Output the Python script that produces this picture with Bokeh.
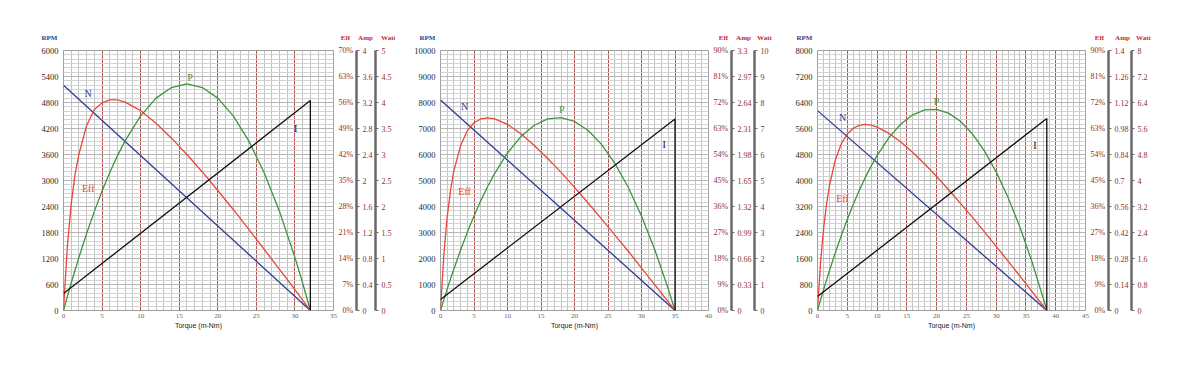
from bokeh.plotting import figure
from bokeh.models import Range1d, LinearAxis, FixedTicker, CustomJSTickFormatter
from bokeh.layouts import row, column
from bokeh.embed import file_html
from bokeh.resources import INLINE
from bokeh.core.properties import value

# ---------------- data: panel 1 ----------------
p1_torque = [0, 0.5, 1, 1.5, 2, 3, 4, 5, 6, 7, 8, 10, 12, 14, 16, 18, 20, 22, 24, 26, 28, 30, 31, 32]
p1_eff = [0, 17.3, 28.7, 36.7, 42.1, 49.8, 54.1, 55.9, 56.7, 56.7, 56.1, 53.8, 50.4, 46.4, 42.0, 37.3,
          32.3, 27.2, 21.9, 16.5, 11.1, 5.6, 2.8, 0]
p1_watt = [0, 0.268, 0.528, 0.779, 1.021, 1.480, 1.906, 2.297, 2.655, 2.978, 3.267, 3.744, 4.084, 4.288,
           4.356, 4.288, 4.084, 3.744, 3.267, 2.655, 1.906, 1.021, 0.528, 0]
p1_n_torque = [0, 32]
p1_n_rpm = [5200, 0]
p1_i_torque = [0, 32, 32]
p1_i_amp = [0.26, 3.23, 0]
p1_x_ticks = [0, 5, 10, 15, 20, 25, 30, 35]
p1_rpm_ticks = [0, 600, 1200, 1800, 2400, 3000, 3600, 4200, 4800, 5400, 6000]
p1_eff_ticks = [0, 7, 14, 21, 28, 35, 42, 49, 56, 63, 70]
p1_amp_ticks = [0, 0.4, 0.8, 1.2, 1.6, 2.0, 2.4, 2.8, 3.2, 3.6, 4.0]
p1_amp_labels = ["0", "0.4", "0.8", "1.2", "1.6", "2", "2.4", "2.8", "3.2", "3.6", "4"]
p1_watt_ticks = [0, 0.5, 1, 1.5, 2, 2.5, 3, 3.5, 4, 4.5, 5]
p1_watt_labels = ["0", "0.5", "1", "1.5", "2", "2.5", "3", "3.5", "4", "4.5", "5"]

# ---------------- data: panel 2 ----------------
p2_torque = [0, 0.5, 1, 1.5, 2, 3, 4, 5, 6, 7, 8, 10, 12, 14, 16, 18, 20, 22, 24, 26, 28, 30, 32, 34, 35]
p2_eff = [0, 19.4, 32.4, 41.6, 48.4, 57.1, 62.2, 65.0, 66.3, 66.7, 66.4, 64.4, 61.2, 57.1, 52.6, 47.8,
          42.6, 37.3, 31.8, 26.2, 20.6, 14.7, 8.9, 3.0, 0]
p2_watt = [0, 0.418, 0.824, 1.218, 1.599, 2.327, 3.005, 3.635, 4.217, 4.750, 5.235, 6.059, 6.689, 7.125,
           7.367, 7.416, 7.270, 6.931, 6.398, 5.671, 4.750, 3.635, 2.327, 0.824, 0]
p2_n_torque = [0, 35]
p2_n_rpm = [8100, 0]
p2_i_torque = [0, 35, 35]
p2_i_amp = [0.14, 2.43, 0]
p2_x_ticks = [0, 5, 10, 15, 20, 25, 30, 35, 40]
p2_rpm_ticks = [0, 1000, 2000, 3000, 4000, 5000, 6000, 7000, 8000, 9000, 10000]
p2_eff_ticks = [0, 9, 18, 27, 36, 45, 54, 63, 72, 81, 90]
p2_amp_ticks = [0, 0.33, 0.66, 0.99, 1.32, 1.65, 1.98, 2.31, 2.64, 2.97, 3.3]
p2_amp_labels = ["0", "0.33", "0.66", "0.99", "1.32", "1.65", "1.98", "2.31", "2.64", "2.97", "3.3"]
p2_watt_ticks = [0, 1, 2, 3, 4, 5, 6, 7, 8, 9, 10]
p2_watt_labels = ["0", "1", "2", "3", "4", "5", "6", "7", "8", "9", "10"]

# ---------------- data: panel 3 ----------------
p3_torque = [0, 0.5, 1, 1.5, 2, 3, 4, 5, 6, 7, 8, 9, 10, 12, 14, 16, 18, 20, 22, 24, 26, 28, 30, 32, 34,
             36, 38, 38.5]
p3_eff = [0, 16.3, 27.9, 36.6, 43.1, 52.2, 57.7, 61.1, 63.1, 64.1, 64.4, 64.2, 63.5, 61.3, 58.3, 54.7,
          50.7, 46.4, 41.8, 37.1, 32.3, 27.3, 22.2, 17.1, 11.9, 6.6, 1.3, 0]
p3_watt = [0, 0.318, 0.627, 0.928, 1.221, 1.782, 2.308, 2.802, 3.262, 3.689, 4.082, 4.441, 4.767, 5.319,
           5.738, 6.022, 6.173, 6.189, 6.072, 5.821, 5.437, 4.918, 4.266, 3.479, 2.559, 1.506, 0.318, 0]
p3_n_torque = [0, 38.5]
p3_n_rpm = [6150, 0]
p3_i_torque = [0, 38.5, 38.5]
p3_i_amp = [0.075, 1.034, 0]
p3_x_ticks = [0, 5, 10, 15, 20, 25, 30, 35, 40, 45]
p3_rpm_ticks = [0, 800, 1600, 2400, 3200, 4000, 4800, 5600, 6400, 7200, 8000]
p3_eff_ticks = [0, 9, 18, 27, 36, 45, 54, 63, 72, 81, 90]
p3_amp_ticks = [0, 0.14, 0.28, 0.42, 0.56, 0.7, 0.84, 0.98, 1.12, 1.26, 1.4]
p3_amp_labels = ["0", "0.14", "0.28", "0.42", "0.56", "0.7", "0.84", "0.98", "1.12", "1.26", "1.4"]
p3_watt_ticks = [0, 0.8, 1.6, 2.4, 3.2, 4, 4.8, 5.6, 6.4, 7.2, 8]
p3_watt_labels = ["0", "0.8", "1.6", "2.4", "3.2", "4", "4.8", "5.6", "6.4", "7.2", "8"]

curve_names = ["N", "P", "Eff", "I"]
axis_titles = ["RPM", "Eff", "Amp", "Watt"]

SERIF = "Liberation Serif"
SANS = "Liberation Sans"
C_N = "#2e3d96"
C_EFF = "#e8473a"
C_P = "#3f943f"
C_I = "#111111"
C_RIGHT = "#8e2f2f"
C_TITLE = "#c8262a"

HEADER_H = 44
FRAME_H = 260
TOP = 6
BOTTOM = 24


def fmt(ticks, labels):
    return CustomJSTickFormatter(args=dict(vals=ticks, labels=labels), code="""
        let best = 0;
        for (let i = 0; i < vals.length; i++) {
            if (Math.abs(vals[i] - tick) < Math.abs(vals[best] - tick)) best = i;
        }
        return labels[best];
    """)


def header(width, left, right, offsets):
    """Strip above a panel holding the axis titles (RPM / Eff / Amp / Watt)."""
    h = figure(width=width, height=HEADER_H, output_backend="svg", toolbar_location=None,
               x_range=Range1d(0, width), y_range=Range1d(0, HEADER_H),
               x_axis_location=None, y_axis_location=None,
               min_border=0, min_border_left=0, min_border_right=0,
               min_border_top=0, min_border_bottom=0)
    h.grid.visible = False
    h.outline_line_color = None
    h.background_fill_color = "white"
    h.border_fill_color = "white"
    frame_right = width - right
    xs = [left + offsets[0], frame_right + offsets[1], frame_right + offsets[2], frame_right + offsets[3]]
    cols = [C_N, C_TITLE, C_TITLE, C_TITLE]
    h.text(x=xs, y=[HEADER_H - 37] * 4, text=axis_titles, text_color=cols,
           text_font=value(SERIF), text_font_size="7px", text_font_style="bold",
           text_align="center", text_baseline="middle")
    return h


def panel(torque, eff, watt, n_t, n_rpm, i_t, i_amp, x_ticks, rpm_ticks, eff_ticks,
          amp_ticks, amp_labels, watt_ticks, watt_labels, width, left, right, label_pos):
    p = figure(width=width, height=TOP + FRAME_H + BOTTOM, output_backend="svg",
               toolbar_location=None,
               x_range=Range1d(x_ticks[0], x_ticks[-1]),
               y_range=Range1d(rpm_ticks[0], rpm_ticks[-1]),
               min_border_left=left, min_border_right=right,
               min_border_top=TOP, min_border_bottom=BOTTOM)
    p.background_fill_color = "white"
    p.border_fill_color = "white"
    p.outline_line_color = "#a0a0a0"
    p.outline_line_width = 1

    p.extra_y_ranges = {
        "eff": Range1d(eff_ticks[0], eff_ticks[-1]),
        "amp": Range1d(amp_ticks[0], amp_ticks[-1]),
        "watt": Range1d(watt_ticks[0], watt_ticks[-1]),
    }

    # x axis
    x_minor = [t for t in range(int(x_ticks[0]), int(x_ticks[-1]) + 1)]
    p.xaxis.ticker = FixedTicker(ticks=x_ticks, minor_ticks=x_minor)
    p.xaxis.axis_label = "Torque (m-Nm)"
    p.xaxis.axis_label_text_font = SANS
    p.xaxis.axis_label_text_font_size = "7px"
    p.xaxis.axis_label_text_font_style = "normal"
    p.xaxis.axis_label_text_color = "#222222"
    p.xaxis.axis_label_standoff = 1
    p.xaxis.major_label_text_font = SERIF
    p.xaxis.major_label_text_font_size = "7px"
    p.xaxis.major_label_text_color = "#666666"
    p.xaxis.major_label_standoff = 3
    p.xaxis.axis_line_color = None
    p.xaxis.major_tick_line_color = None
    p.xaxis.minor_tick_line_color = None
    p.xaxis.major_tick_out = 0
    p.xaxis.major_tick_in = 0
    p.xaxis.minor_tick_out = 0

    # left RPM axis
    rstep = rpm_ticks[1] - rpm_ticks[0]
    y_minor = [rpm_ticks[0] + k * rstep / 6 for k in range(0, 61)]
    p.yaxis.ticker = FixedTicker(ticks=rpm_ticks, minor_ticks=y_minor)
    p.yaxis.major_label_text_font = SERIF
    p.yaxis.major_label_text_font_size = "8.5px"
    p.yaxis.major_label_text_color = "#2a2a2a"
    p.yaxis.major_label_standoff = 5
    p.yaxis.axis_line_color = None
    p.yaxis.major_tick_line_color = None
    p.yaxis.minor_tick_line_color = None
    p.yaxis.major_tick_out = 0
    p.yaxis.major_tick_in = 0
    p.yaxis.minor_tick_out = 0

    # grids
    p.xgrid.grid_line_color = "#b05555"
    p.xgrid.grid_line_width = 1
    p.xgrid.minor_grid_line_color = "#c2c2c2"
    p.xgrid.minor_grid_line_width = 1
    p.ygrid.grid_line_color = "#b4b4b4"
    p.ygrid.minor_grid_line_color = "#d2d2d2"

    # right axes
    eff_labels = [("\u2007" if t < 10 else "") + "%d%%" % t for t in eff_ticks]
    ax_eff = LinearAxis(y_range_name="eff", ticker=FixedTicker(ticks=eff_ticks, minor_ticks=[]),
                        formatter=fmt(eff_ticks, eff_labels))
    ax_eff.axis_line_color = None
    ax_eff.major_tick_line_color = None
    ax_eff.minor_tick_line_color = None
    ax_eff.major_tick_out = 0
    ax_eff.major_tick_in = 0
    ax_eff.minor_tick_out = 0
    ax_eff.major_label_standoff = 5
    ax_eff.major_label_text_font = SERIF
    ax_eff.major_label_text_font_size = "8px"
    ax_eff.major_label_text_color = C_RIGHT
    p.add_layout(ax_eff, "right")

    for rng, ticks, labels in (("amp", amp_ticks, amp_labels), ("watt", watt_ticks, watt_labels)):
        ax = LinearAxis(y_range_name=rng, ticker=FixedTicker(ticks=ticks, minor_ticks=[]),
                        formatter=fmt(ticks, labels))
        ax.axis_line_color = "#6a6a6a"
        ax.axis_line_width = 2.5
        ax.major_tick_line_color = "#6a6a6a"
        ax.major_tick_line_width = 1
        ax.major_tick_in = 0
        ax.major_tick_out = 3
        ax.minor_tick_out = 0
        ax.minor_tick_line_color = None
        ax.major_label_standoff = 3
        ax.major_label_text_font = SERIF
        ax.major_label_text_font_size = "8px"
        ax.major_label_text_color = C_RIGHT
        p.add_layout(ax, "right")

    # curves
    p.line(n_t, n_rpm, line_color=C_N, line_width=1.3)
    p.line(torque, eff, line_color=C_EFF, line_width=1.3, y_range_name="eff")
    p.line(torque, watt, line_color=C_P, line_width=1.3, y_range_name="watt")
    p.line(i_t, i_amp, line_color=C_I, line_width=1.3, y_range_name="amp")

    colors = [C_N, C_P, C_EFF, C_I]
    for name, (lx, ly), col in zip(curve_names, label_pos, colors):
        p.text(x=[lx], y=[ly], text=[name], text_color=col, text_font=value(SERIF),
               text_font_size="10px", text_align="center", text_baseline="middle")
    return p


W1, L1, R1 = 395, 63, 62
W2, L2, R2 = 377, 45, 64
W3, L3, R3 = 390, 45, 77

f1 = panel(p1_torque, p1_eff, p1_watt, p1_n_torque, p1_n_rpm, p1_i_torque, p1_i_amp,
           p1_x_ticks, p1_rpm_ticks, p1_eff_ticks, p1_amp_ticks, p1_amp_labels,
           p1_watt_ticks, p1_watt_labels, width=W1, left=L1, right=R1,
           label_pos=[(3.2, 5000), (16.4, 5380), (3.2, 2815), (30.1, 4200)])
f2 = panel(p2_torque, p2_eff, p2_watt, p2_n_torque, p2_n_rpm, p2_i_torque, p2_i_amp,
           p2_x_ticks, p2_rpm_ticks, p2_eff_ticks, p2_amp_ticks, p2_amp_labels,
           p2_watt_ticks, p2_watt_labels, width=W2, left=L2, right=R2,
           label_pos=[(3.6, 7840), (18.1, 7720), (3.6, 4560), (33.4, 6370)])
f3 = panel(p3_torque, p3_eff, p3_watt, p3_n_torque, p3_n_rpm, p3_i_torque, p3_i_amp,
           p3_x_ticks, p3_rpm_ticks, p3_eff_ticks, p3_amp_ticks, p3_amp_labels,
           p3_watt_ticks, p3_watt_labels, width=W3, left=L3, right=R3,
           label_pos=[(4.2, 5940), (20.0, 6430), (4.2, 3450), (36.5, 5080)])

h1 = header(W1, L1, R1, [-14, 12, 32, 55])
h2 = header(W2, L2, R2, [-13, 15, 35, 56])
h3 = header(W3, L3, R3, [-13, 14, 37, 58])

layout = column(row(h1, h2, h3), row(f1, f2, f3))
open("out.html", "w").write(file_html(layout, INLINE))
